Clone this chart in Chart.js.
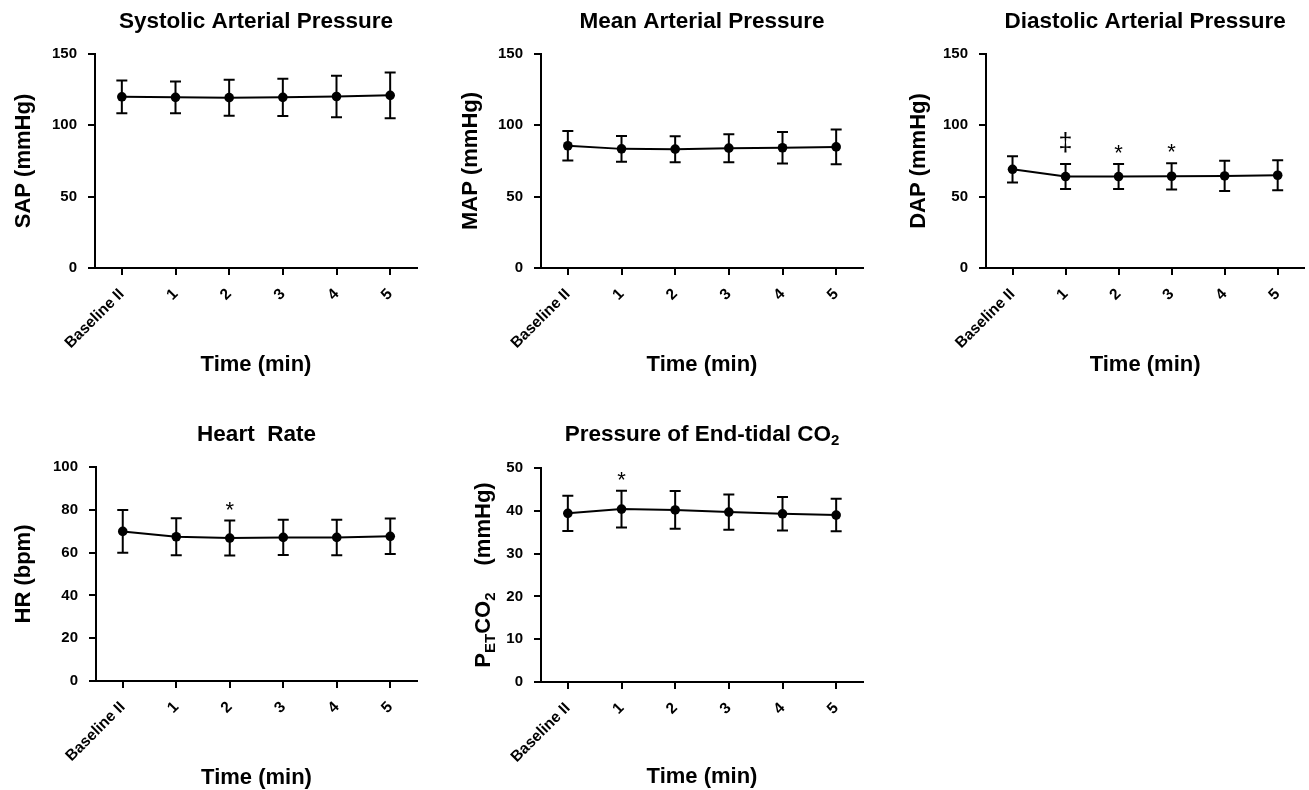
<!DOCTYPE html>
<html>
<head>
<meta charset="utf-8">
<title>Haemodynamics over time</title>
<script src="https://cdn.jsdelivr.net/npm/chart.js@4.4.1/dist/chart.umd.min.js"></script>
<style>
    html, body { margin: 0; padding: 0; background: #fff; overflow: hidden; }
    body { width: 1309px; height: 790px; position: relative; }
    .panel { position: absolute; }
</style>
</head>
<body>
<div class="panel" style="left:0px;top:0px"><canvas id="sapChart" width="436" height="395"></canvas></div>
<div class="panel" style="left:446px;top:0px"><canvas id="mapChart" width="436" height="395"></canvas></div>
<div class="panel" style="left:891px;top:0px"><canvas id="dapChart" width="418" height="395"></canvas></div>
<div class="panel" style="left:1px;top:413px"><canvas id="hrChart" width="436" height="378"></canvas></div>
<div class="panel" style="left:446px;top:414px"><canvas id="petChart" width="436" height="378"></canvas></div>

<script>
const TIME_LABELS = ['Baseline II', '1', '2', '3', '4', '5'];

const SAP_MEAN = [120, 119.6, 119.4, 119.6, 120.2, 121];
const SAP_SD = [11.5, 11.2, 12.6, 13.1, 14.6, 16.1];

const MAP_MEAN = [85.7, 83.5, 83.3, 84, 84.3, 84.9];
const MAP_SD = [10.4, 9, 9.1, 9.8, 11.1, 12.2];

const DAP_MEAN = [69.2, 64.1, 64.1, 64.3, 64.5, 65];
const DAP_SD = [9.2, 8.8, 8.8, 9.2, 10.6, 10.5];
const DAP_MARKS = ['', '‡', '*', '*', '', ''];

const HR_MEAN = [69.9, 67.4, 66.8, 67.1, 67.1, 67.6];
const HR_SD = [10, 8.6, 8.2, 8.2, 8.3, 8.3];
const HR_MARKS = ['', '', '*', '', '', ''];

const PET_MEAN = [39.4, 40.4, 40.2, 39.7, 39.3, 39];
const PET_SD = [4.1, 4.3, 4.4, 4.1, 3.9, 3.8];
const PET_MARKS = ['', '*', '', '', '', ''];

const PRESSURE_AXIS = [0, 150, 50];
const HR_AXIS = [0, 100, 20];
const PET_AXIS = [0, 50, 10];

const FONT = "'Liberation Sans', Arial, Helvetica, sans-serif";
Chart.defaults.font.family = FONT;
Chart.defaults.color = '#000';

// error bars (mean +/- SD) and significance marks above them
const errorBarPlugin = {
    id: 'errorBars',
    afterDatasetsDraw(chart) {
        const ctx = chart.ctx;
        const ds = chart.data.datasets[0];
        const yScale = chart.scales.y;
        const points = chart.getDatasetMeta(0).data;
        ctx.save();
        ctx.strokeStyle = '#000';
        ctx.lineWidth = 2;
        points.forEach((pt, i) => {
            const top = yScale.getPixelForValue(ds.data[i] + ds.sd[i]);
            const bottom = yScale.getPixelForValue(ds.data[i] - ds.sd[i]);
            ctx.beginPath();
            ctx.moveTo(pt.x, top);
            ctx.lineTo(pt.x, bottom);
            ctx.moveTo(pt.x - 5.5, top);
            ctx.lineTo(pt.x + 5.5, top);
            ctx.moveTo(pt.x - 5.5, bottom);
            ctx.lineTo(pt.x + 5.5, bottom);
            ctx.stroke();

            const mark = ds.marks ? ds.marks[i] : '';
            if (mark) {
                ctx.font = (mark === '*' ? '22px ' : '25px ') + FONT;
                ctx.fillStyle = '#000';
                ctx.textAlign = 'center';
                ctx.textBaseline = 'alphabetic';
                const m = ctx.measureText(mark);
                ctx.fillText(mark, pt.x, top - 11 - m.actualBoundingBoxDescent);
            }
        });
        ctx.restore();
    }
};

// draws a run of text pieces, some of them as subscripts, centred on (0, 0)
function drawRichText(ctx, parts) {
    let total = 0;
    parts.forEach(p => {
        ctx.font = 'bold ' + p.size + 'px ' + FONT;
        p.width = p.gap || ctx.measureText(p.text).width;
        total += p.width;
    });
    ctx.fillStyle = '#000';
    ctx.textAlign = 'left';
    ctx.textBaseline = 'alphabetic';
    let x = -total / 2;
    parts.forEach(p => {
        ctx.font = 'bold ' + p.size + 'px ' + FONT;
        if (p.text) ctx.fillText(p.text, x, p.shift);
        x += p.width;
    });
}

// title and y title of the end-tidal CO2 panel, both need real subscripts
const petTextPlugin = {
    id: 'petText',
    afterDraw(chart) {
        const ctx = chart.ctx;
        const area = chart.chartArea;

        ctx.save();
        ctx.translate((area.left + area.right) / 2, 27);
        drawRichText(ctx, [
            { text: 'Pressure of End-tidal CO', size: 22.5, shift: 0 },
            { text: '2', size: 15, shift: 4 }
        ]);
        ctx.restore();

        ctx.save();
        ctx.translate(44, (area.top + area.bottom) / 2);
        ctx.rotate(-Math.PI / 2);
        drawRichText(ctx, [
            { text: 'P', size: 22, shift: 0 },
            { text: 'ET', size: 15, shift: 5 },
            { text: 'CO', size: 22, shift: 0 },
            { text: '2', size: 15, shift: 5 },
            { text: '', size: 22, shift: 0, gap: 27 },
            { text: '(mmHg)', size: 22, shift: 0 }
        ]);
        ctx.restore();
    }
};

function createPanel(canvasId, cfg) {
    const canvas = document.getElementById(canvasId);
    if (!canvas) return null;

    const tickFont = { family: FONT, size: 15, weight: 'bold' };
    const xTickFont = { family: FONT, size: 15.5, weight: 'bold' };
    const axisTitleFont = { family: FONT, size: 22, weight: 'bold' };

    return new Chart(canvas, {
        type: 'line',
        data: {
            labels: TIME_LABELS,
            datasets: [{
                data: cfg.mean,
                sd: cfg.sd,
                marks: cfg.marks,
                borderColor: '#000',
                borderWidth: 2,
                pointRadius: 4.8,
                pointBackgroundColor: '#000',
                pointBorderColor: '#000',
                pointBorderWidth: 0,
                tension: 0,
                clip: false
            }]
        },
        options: {
            responsive: false,
            animation: false,
            events: [],
            layout: { padding: { left: 0, top: cfg.title ? 0 : 54, right: cfg.padRight, bottom: cfg.padBottom } },
            plugins: {
                legend: { display: false },
                tooltip: { enabled: false },
                title: {
                    display: !!cfg.title,
                    text: cfg.title,
                    fullSize: false,
                    color: '#000',
                    font: { family: FONT, size: 22.5, weight: 'bold' },
                    padding: { top: 8.5, bottom: 18.5 }
                }
            },
            scales: {
                x: {
                    type: 'category',
                    offset: true,
                    grid: { drawOnChartArea: false, drawTicks: true, tickLength: 7, color: '#000', lineWidth: 2, offset: false },
                    border: { display: true, color: '#000', width: 2 },
                    ticks: { color: '#000', font: xTickFont, minRotation: 45, maxRotation: 45, padding: 10, autoSkip: false },
                    title: { display: true, text: 'Time (min)', color: '#000', font: axisTitleFont, padding: { top: 0, bottom: cfg.xTitleBottom } },
                    afterFit: scale => { scale.height = 110; }
                },
                y: {
                    min: cfg.axis[0],
                    max: cfg.axis[1],
                    grid: { drawOnChartArea: false, drawTicks: true, tickLength: 7, color: '#000', lineWidth: 2 },
                    border: { display: true, color: '#000', width: 2 },
                    ticks: { color: '#000', font: tickFont, stepSize: cfg.axis[2], padding: 11 },
                    title: { display: !!cfg.yTitle, text: cfg.yTitle, color: '#000', font: axisTitleFont, padding: { top: cfg.yTitleTop, bottom: 0 } },
                    afterFit: scale => { scale.width = 95; }
                }
            }
        },
        plugins: cfg.plugins
    });
}

createPanel('sapChart', {
    title: 'Systolic Arterial Pressure', yTitle: 'SAP (mmHg)', mean: SAP_MEAN, sd: SAP_SD, marks: null,
    axis: PRESSURE_AXIS, padRight: 19, padBottom: 17, yTitleTop: 11, xTitleBottom: 0,
    plugins: [errorBarPlugin]
});
createPanel('mapChart', {
    title: 'Mean Arterial Pressure', yTitle: 'MAP (mmHg)', mean: MAP_MEAN, sd: MAP_SD, marks: null,
    axis: PRESSURE_AXIS, padRight: 19, padBottom: 17, yTitleTop: 11.5, xTitleBottom: 0,
    plugins: [errorBarPlugin]
});
createPanel('dapChart', {
    title: 'Diastolic Arterial Pressure', yTitle: 'DAP (mmHg)', mean: DAP_MEAN, sd: DAP_SD, marks: DAP_MARKS,
    axis: PRESSURE_AXIS, padRight: 1, padBottom: 17, yTitleTop: 14.5, xTitleBottom: 0,
    plugins: [errorBarPlugin]
});
createPanel('hrChart', {
    title: 'Heart  Rate', yTitle: 'HR (bpm)', mean: HR_MEAN, sd: HR_SD, marks: HR_MARKS,
    axis: HR_AXIS, padRight: 20, padBottom: 0, yTitleTop: 9.5, xTitleBottom: 0,
    plugins: [errorBarPlugin]
});
createPanel('petChart', {
    title: '', yTitle: '', mean: PET_MEAN, sd: PET_SD, marks: PET_MARKS,
    axis: PET_AXIS, padRight: 19, padBottom: 0, yTitleTop: 0, xTitleBottom: 2,
    plugins: [errorBarPlugin, petTextPlugin]
});
</script>
</body>
</html>
